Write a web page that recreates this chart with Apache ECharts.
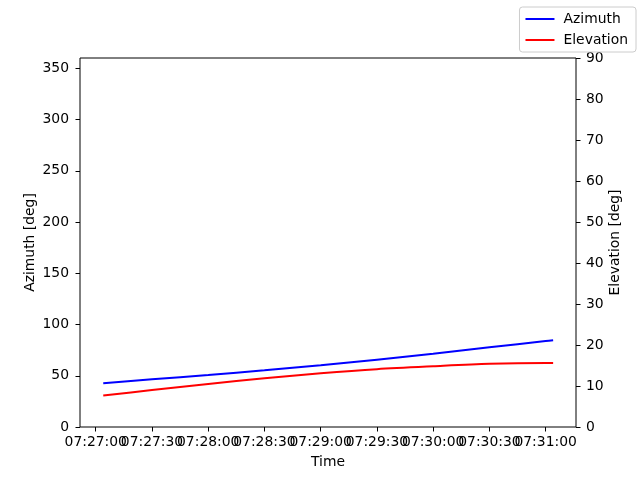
<!DOCTYPE html>
<html>
<head>
<meta charset="utf-8">
<script src="https://cdn.jsdelivr.net/npm/echarts@6/dist/echarts.min.js"></script>
<style>html,body{margin:0;padding:0;background:#fff}#c{width:640px;height:480px}</style>
</head>
<body>
<div id="c"></div>
<script>
// Data
var times = ['07:27:04','07:27:30','07:28:00','07:28:30','07:29:00','07:29:30','07:30:00','07:30:30','07:31:00','07:31:04'];
var azimuth = [42.6, 46.5, 50.7, 55.3, 60.2, 65.7, 71.5, 77.7, 83.8, 84.6];
var elevation = [7.7, 9.0, 10.5, 11.9, 13.1, 14.1, 14.8, 15.4, 15.6, 15.6];
var xTickLabels = ['07:27:00','07:27:30','07:28:00','07:28:30','07:29:00','07:29:30','07:30:00','07:30:30','07:31:00'];
var azTicks = [0, 50, 100, 150, 200, 250, 300, 350];
var elTicks = [0, 10, 20, 30, 40, 50, 60, 70, 80, 90];
var xRange = ['07:26:51.6', '07:31:16.2'];

function toSec(s){ var p = s.split(':'); return (+p[0])*3600 + (+p[1])*60 + parseFloat(p[2]); }
function pad(n){ return (n<10?'0':'') + n; }
function fmt(v){ v = Math.round(v); var h = Math.floor(v/3600), m = Math.floor((v%3600)/60), s = v%60; return pad(h)+':'+pad(m)+':'+pad(s); }

var xTickSec = xTickLabels.map(toSec);
var xTicksEven = xTickSec.filter(function(v, i){ return i % 2 === 0; });
var xTicksOdd = xTickSec.filter(function(v, i){ return i % 2 === 1; });

var FONT = 'DejaVu Sans';
var FS = 13.9;
var chart = echarts.init(document.getElementById('c'), null, {renderer:'canvas'});
var axisCommon = {
  axisLine: {show: false},
  axisTick: {show: true, inside: false, length: 4.5, lineStyle: {color: '#000', width: 1}},
  splitLine: {show: false},
  axisLabel: {color: '#000', fontFamily: FONT, fontSize: FS, hideOverlap: false, showMinLabel: true, showMaxLabel: true},
  nameMoveOverlap: false,
  nameTextStyle: {color: '#000', fontFamily: FONT, fontSize: FS}
};
function xAxisFor(ticks, withName){
  return Object.assign({}, axisCommon, {
    type: 'value', position: 'bottom', min: toSec(xRange[0]), max: toSec(xRange[1]),
    name: withName ? 'Time' : '', nameLocation: 'middle', nameGap: 28,
    axisTick: Object.assign({}, axisCommon.axisTick, {customValues: ticks}),
    axisLabel: Object.assign({}, axisCommon.axisLabel, {margin: 8, customValues: ticks, formatter: function(v){ return fmt(v); }})
  });
}
chart.setOption({
  animation: false,
  backgroundColor: '#fff',
  textStyle: {fontFamily: FONT},
  grid: {left: 80, right: 64, top: 58, bottom: 53, show: true, borderColor: '#000', borderWidth: 1, backgroundColor: 'transparent', containLabel: false},
  legend: {
    right: 4, top: 7, orient: 'vertical',
    backgroundColor: '#fff', borderColor: '#cccccc', borderWidth: 1, borderRadius: 3,
    padding: [5, 8, 5, 6], itemGap: 7, itemWidth: 29, itemHeight: 2, icon: 'rect',
    textStyle: {color: '#000', fontFamily: FONT, fontSize: FS, lineHeight: 14, padding: [0, 0, 0, 4]},
    data: ['Azimuth', 'Elevation']
  },
  xAxis: [xAxisFor(xTicksEven, true), xAxisFor(xTicksOdd, false)],
  yAxis: [
    Object.assign({}, axisCommon, {
      type: 'value', position: 'left', min: 0, max: 360,
      name: 'Azimuth [deg]', nameLocation: 'middle', nameGap: 43,
      axisTick: Object.assign({}, axisCommon.axisTick, {customValues: azTicks}),
      axisLabel: Object.assign({}, axisCommon.axisLabel, {margin: 11, customValues: azTicks})
    }),
    Object.assign({}, axisCommon, {
      type: 'value', position: 'right', min: 0, max: 90,
      name: 'Elevation [deg]', nameLocation: 'middle', nameGap: 32,
      axisTick: Object.assign({}, axisCommon.axisTick, {customValues: elTicks}),
      axisLabel: Object.assign({}, axisCommon.axisLabel, {margin: 10, customValues: elTicks})
    })
  ],
  series: [
    {name: 'Azimuth', type: 'line', xAxisIndex: 0, yAxisIndex: 0, smooth: 0.3, symbol: 'none', showSymbol: false,
     lineStyle: {color: '#0000ff', width: 2}, itemStyle: {color: '#0000ff'},
     data: times.map(function(t, i){ return [toSec(t), azimuth[i]]; })},
    {name: 'Elevation', type: 'line', xAxisIndex: 0, yAxisIndex: 1, smooth: 0.3, symbol: 'none', showSymbol: false,
     lineStyle: {color: '#ff0000', width: 2}, itemStyle: {color: '#ff0000'},
     data: times.map(function(t, i){ return [toSec(t), elevation[i]]; })}
  ]
});
</script>
</body>
</html>
